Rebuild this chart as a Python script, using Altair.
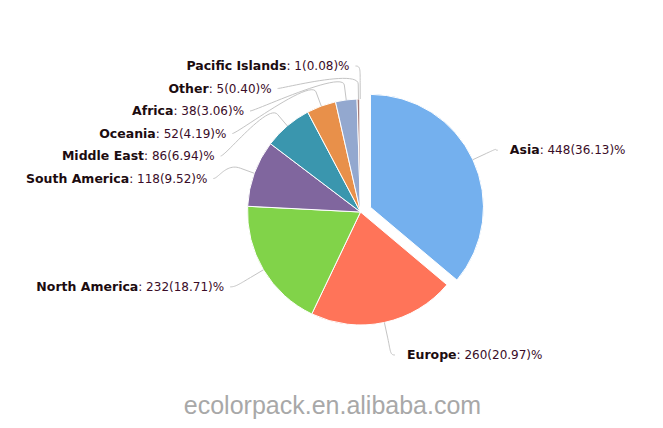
import math
import altair as alt
import pandas as pd

# ---------------- data ----------------
regions = ["Asia", "Europe", "North America", "South America", "Middle East",
           "Oceania", "Africa", "Other", "Pacific Islands"]
counts = [448, 260, 232, 118, 86, 52, 38, 5, 1]
percents = [36.13, 20.97, 18.71, 9.52, 6.94, 4.19, 3.06, 0.40, 0.08]
colors = ["#74b0ee", "#ff7459", "#81d349", "#80669e", "#3a96ae",
          "#e8904a", "#93a8cf", "#a47d7c", "#d6d69a"]
sliced = ["Asia"]
watermark = "ecolorpack.en.alibaba.com"

# ---------------- layout constants ----------------
W, H = 647, 412
CX, CY, R = 352.5, 204.0, 113.0
SLICE_OFF = 11.0
LABEL_R_Y = 146.3
LABEL_R_X = 146.0
SPACING = 22.5
CONN_OFF = 15.0
FS = 12
FS_B = 12.5

# DejaVu Sans advance widths (units / 2048)
REG_W = {" ": 651, "%": 1946, "(": 799, ")": 799, ".": 651, ":": 690}
for d in "0123456789":
    REG_W[d] = 1303
BOLD_W = {"A": 1585, "s": 1219, "i": 702, "a": 1382, "E": 1399, "u": 1458,
          "r": 1010, "o": 1407, "p": 1466, "e": 1389}


def width_reg(s):
    return sum(REG_W.get(c, 1303) for c in s) / 2048 * FS


def width_bold(s):
    return sum(BOLD_W.get(c, 1400) for c in s) / 2048 * FS_B


total = sum(counts)
rows = []
acc = 0
for name, c, p, col in zip(regions, counts, percents, colors):
    a0 = acc / total * 2 * math.pi
    a1 = (acc + c) / total * 2 * math.pi
    mid = (a0 + a1) / 2
    off = SLICE_OFF if name in sliced else 0.0
    tx, ty = off * math.sin(mid), -off * math.cos(mid)
    rows.append(dict(region=name, count=c, pct=p, t0=acc, t1=acc + c, mid=mid,
                     ax=CX + tx, ay=CY + ty, tx=tx, ty=ty,
                     right=math.sin(mid) > 0,
                     nat_y=CY - LABEL_R_Y * math.cos(mid)))
    acc += c

# distribute labels on each side (top-down push)
for side in (True, False):
    items = sorted([r for r in rows if r["right"] == side], key=lambda r: r["nat_y"])
    prev = -1e9
    ymin = CY - LABEL_R_X
    for r in items:
        y = max(r["nat_y"], prev + SPACING, ymin)
        r["ly"] = y
        prev = y

label_rows = []
conn_rows = []
for r in rows:
    y = r["ly"]
    dy = y - CY
    dxl = math.sqrt(max(0.0, LABEL_R_X ** 2 - dy ** 2))
    s, cmid = math.sin(r["mid"]), math.cos(r["mid"])
    rest = ": %d(%.2f)%%" % (r["count"], r["pct"])
    if r["right"]:
        anchor = CX + dxl
        tstart = anchor + 17
        label_rows.append(dict(txt=r["region"], x=tstart, y=y, bold=1, al="left"))
        label_rows.append(dict(txt=rest, x=tstart + width_bold(r["region"]), y=y, bold=0, al="left"))
        p0 = (anchor + 5, y)
    else:
        anchor = CX - dxl
        tend = anchor - 11
        label_rows.append(dict(txt=rest, x=tend, y=y, bold=0, al="right"))
        label_rows.append(dict(txt=r["region"], x=tend - width_reg(rest), y=y, bold=1, al="right"))
        p0 = (anchor - 5, y)
    p4 = (CX + R * s + r["tx"], CY - R * cmid + r["ty"])
    p2 = (CX + (R + CONN_OFF) * s + r["tx"], CY - (R + CONN_OFF) * cmid + r["ty"])
    c1 = (anchor, y)
    c2 = (2 * p2[0] - p4[0], 2 * p2[1] - p4[1])
    n = 24
    for i in range(n + 1):
        t = i / n
        u = 1 - t
        bx = u ** 3 * p0[0] + 3 * u * u * t * c1[0] + 3 * u * t * t * c2[0] + t ** 3 * p2[0]
        by = u ** 3 * p0[1] + 3 * u * u * t * c1[1] + 3 * u * t * t * c2[1] + t ** 3 * p2[1]
        conn_rows.append(dict(region=r["region"], k=i, x=bx, y=by))
    conn_rows.append(dict(region=r["region"], k=n + 1, x=p4[0], y=p4[1]))

df = pd.DataFrame(rows)
lab = pd.DataFrame(label_rows)
con = pd.DataFrame(conn_rows)

xs = alt.Scale(domain=[0, W], range=[0, W], nice=False, zero=False)
ys = alt.Scale(domain=[0, H], range=[0, H], nice=False, zero=False)

arcs = alt.Chart(df).mark_arc(radius=R, stroke="white", strokeWidth=1).encode(
    x=alt.X("ax:Q", scale=xs, axis=None),
    y=alt.Y("ay:Q", scale=ys, axis=None),
    theta=alt.Theta("t0:Q", scale=alt.Scale(domain=[0, total], range=[0, 2 * math.pi]), stack=None),
    theta2="t1:Q",
    color=alt.Color("region:N", scale=alt.Scale(domain=regions, range=colors), legend=None),
)

conns = alt.Chart(con).mark_line(color="#c4c4c4", strokeWidth=1).encode(
    x=alt.X("x:Q", scale=xs, axis=None),
    y=alt.Y("y:Q", scale=ys, axis=None),
    detail="region:N",
    order="k:Q",
)


def text_layer(bold, align):
    sub = lab[(lab["bold"] == bold) & (lab["al"] == align)]
    return alt.Chart(sub).mark_text(
        align=align, baseline="middle", font="DejaVu Sans",
        fontSize=FS_B if bold else FS,
        fontWeight="bold" if bold else "normal",
        color="#1c0c10" if bold else "#3a0c28",
    ).encode(
        x=alt.X("x:Q", scale=xs, axis=None),
        y=alt.Y("y:Q", scale=ys, axis=None),
        text="txt:N",
    )


wm = alt.Chart(pd.DataFrame({"t": [watermark]})).mark_text(
    font="Liberation Sans", fontSize=25, color="#a8a8a8", align="center", baseline="alphabetic"
).encode(
    x=alt.value(324.5), y=alt.value(406), text="t:N"
)

chart = alt.layer(
    arcs, conns,
    text_layer(1, "left"), text_layer(0, "left"),
    text_layer(1, "right"), text_layer(0, "right"),
    wm,
).properties(
    width=W, height=H, padding=0, autosize=alt.AutoSizeParams(type="none")
).configure_view(stroke=None)

chart.save("out.html", embed_options={"renderer": "svg", "actions": False})
